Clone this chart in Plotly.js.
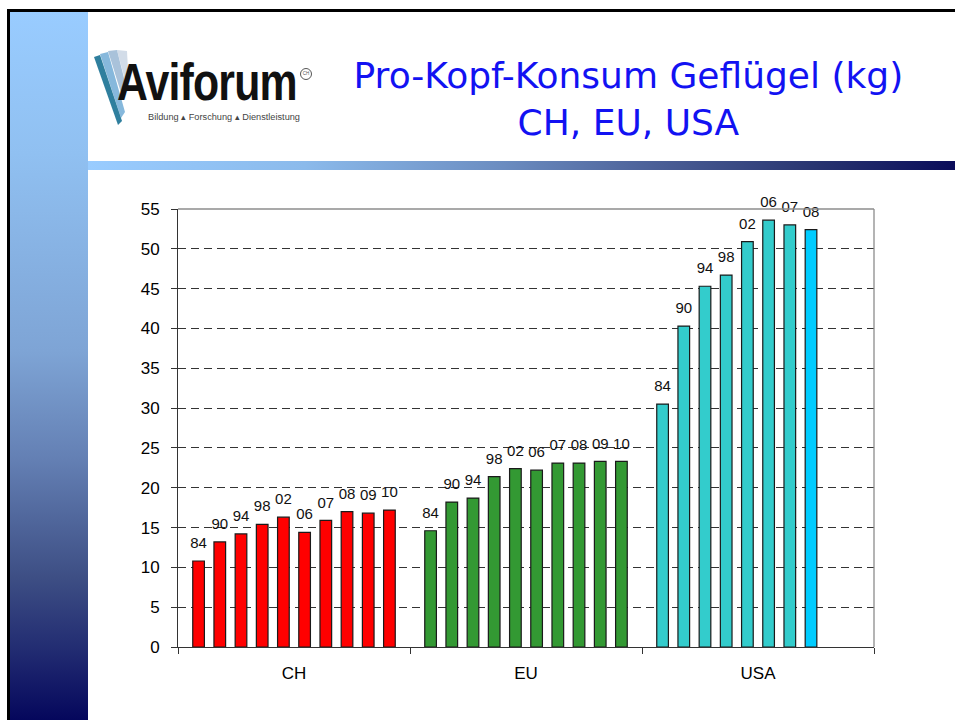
<!DOCTYPE html>
<html>
<head>
<meta charset="utf-8">
<script src="https://cdn.plot.ly/plotly-3.0.1.min.js"></script>
<style>
html,body{margin:0;padding:0;background:#fff;}
#page{position:relative;width:955px;height:720px;overflow:hidden;background:#fff;}
#frameTop{position:absolute;left:7px;top:9px;width:948px;height:3px;background:#000;}
#frameLeft{position:absolute;left:7px;top:9px;width:3px;height:711px;background:#000;}
#sidebar{position:absolute;left:10px;top:12px;width:78px;height:708px;
  background:linear-gradient(to bottom,#99ccff 0%,#90c0f1 20%,#7ea4d5 48%,#6480b4 63%,#3d4e84 80%,#222c72 90%,#05075c 100%);}
#band{position:absolute;left:88px;top:161px;width:867px;height:9px;
  background:linear-gradient(to right,#99ccff 0%,#8bbaeb 25%,#6b8cc0 48%,#4a5e96 66%,#283470 84%,#0a0c5a 100%);}
#chart{position:absolute;left:0;top:0;width:955px;height:720px;}
#logoWord{position:absolute;left:117px;top:64px;font-family:'Liberation Sans',Arial,sans-serif;font-weight:bold;
  font-size:51px;line-height:38px;height:38px;color:#111;transform:scaleX(0.84);transform-origin:0 0;letter-spacing:-1px;white-space:nowrap;}
#logoSub{position:absolute;left:148px;top:112.5px;font-family:'Liberation Sans',Arial,sans-serif;font-size:9.2px;line-height:9px;color:#444;white-space:nowrap;}
#logoReg{position:absolute;left:300px;top:68px;width:10px;height:10px;border:1px solid #555;border-radius:50%;
  font-family:'Liberation Sans',Arial,sans-serif;font-size:4.5px;line-height:10px;text-align:center;color:#555;}
#feather{position:absolute;left:0;top:0;}
</style>
</head>
<body>
<div id="page">
  <div id="sidebar"></div>
  <div id="band"></div>
  <div id="frameTop"></div>
  <div id="frameLeft"></div>
  <svg id="feather" width="140" height="140" viewBox="0 0 140 140">
    <polygon points="117,50 127,51 128,70 125,80" fill="#d2dce8"/>
    <polygon points="108,51 117,50 126,86 122,96" fill="#a9c2da"/>
    <polygon points="100,54 108,52 125,112 121,118" fill="#86b8dc"/>
    <polygon points="94,57 100,55 122,121 118,125" fill="#2f7f9e"/>
  </svg>
  <div id="logoWord">Aviforum</div>
  <div id="logoReg">CH</div>
  <div id="logoSub">Bildung &#9652; Forschung &#9652; Dienstleistung</div>
  <div id="chart"></div>
</div>
<script>
// ---- data ----
var categories = ['CH', 'EU', 'USA'];
var years = ['84', '90', '94', '98', '02', '06', '07', '08', '09', '10'];
var ch  = [10.8, 13.2, 14.2, 15.4, 16.3, 14.4, 15.9, 17.0, 16.8, 17.2];
var eu  = [14.6, 18.2, 18.7, 21.4, 22.4, 22.2, 23.1, 23.1, 23.3, 23.3];
var usa = [30.5, 40.3, 45.3, 46.7, 50.9, 53.6, 53.0, 52.4, null, null];
var yTicks = [0, 5, 10, 15, 20, 25, 30, 35, 40, 45, 50, 55];
var titleText = 'Pro-Kopf-Konsum Geflügel (kg)<br>CH, EU, USA';

// ---- styles ----
var groupColors = ['#ff0000', '#339933', '#33cccc'];
var highlightYear = '08';
var highlightColor = '#00ccff';

var traces = [];
years.forEach(function (yr, i) {
  var vals = [ch[i], eu[i], usa[i]];
  var cols = groupColors.slice();
  if (yr === highlightYear) cols[2] = highlightColor;
  traces.push({
    type: 'bar', name: yr, x: categories, y: vals,
    marker: {color: cols, line: {color: '#1a1a1a', width: 1.2}},
    hoverinfo: 'skip', showlegend: false
  });
});
years.forEach(function (yr, i) {
  var vals = [ch[i], eu[i], usa[i]];
  traces.push({
    type: 'scatter', mode: 'markers+text', name: yr + ' label',
    x: categories, y: vals,
    text: vals.map(function (v) { return v === null ? '' : yr; }),
    textposition: 'top center',
    textfont: {family: 'Liberation Sans, Arial, sans-serif', size: 15, color: '#111'},
    marker: {size: 13, color: 'rgba(0,0,0,0)'},
    cliponaxis: false, hoverinfo: 'skip', showlegend: false
  });
});

var layout = {
  width: 955, height: 720,
  margin: {l: 178, r: 81, t: 209, b: 73, pad: 0},
  paper_bgcolor: 'rgba(0,0,0,0)', plot_bgcolor: 'rgba(0,0,0,0)',
  barmode: 'group', bargap: 0.086, bargroupgap: 0.45,
  scattermode: 'group', scattergap: 0.086,
  font: {family: 'Liberation Sans, Arial, sans-serif', color: '#000'},
  title: {
    text: titleText,
    font: {family: 'DejaVu Sans, sans-serif', size: 36, color: '#1212f2'},
    xref: 'container', yref: 'container', x: 0.658, xanchor: 'center',
    y: 0.878, yanchor: 'top'
  },
  xaxis: {
    type: 'category', tickson: 'boundaries', ticks: 'outside', ticklen: 6, tickcolor: '#333', tickwidth: 1,
    showline: true, linecolor: '#333', linewidth: 1, showgrid: false, zeroline: false,
    tickfont: {size: 17, color: '#000'}, ticklabelstandoff: 11, fixedrange: true
  },
  yaxis: {
    range: [0, 55], tickmode: 'array', tickvals: yTicks, ticks: 'outside', ticklen: 6, tickcolor: '#333', tickwidth: 1,
    showline: true, linecolor: '#333', linewidth: 1, zeroline: false,
    showgrid: true, gridcolor: '#333', gridwidth: 1, griddash: '8px,5px',
    tickfont: {size: 17, color: '#000'}, ticklabelstandoff: 8, fixedrange: true
  },
  shapes: [
    {type: 'line', xref: 'paper', yref: 'paper', x0: 0, x1: 1, y0: 1, y1: 1, line: {color: '#8c8c8c', width: 1.3}, layer: 'above'},
    {type: 'line', xref: 'paper', yref: 'paper', x0: 1, x1: 1, y0: 0, y1: 1, line: {color: '#8c8c8c', width: 1.3}, layer: 'above'}
  ]
};

Plotly.newPlot('chart', traces, layout, {staticPlot: true, displayModeBar: false});
</script>
</body>
</html>
